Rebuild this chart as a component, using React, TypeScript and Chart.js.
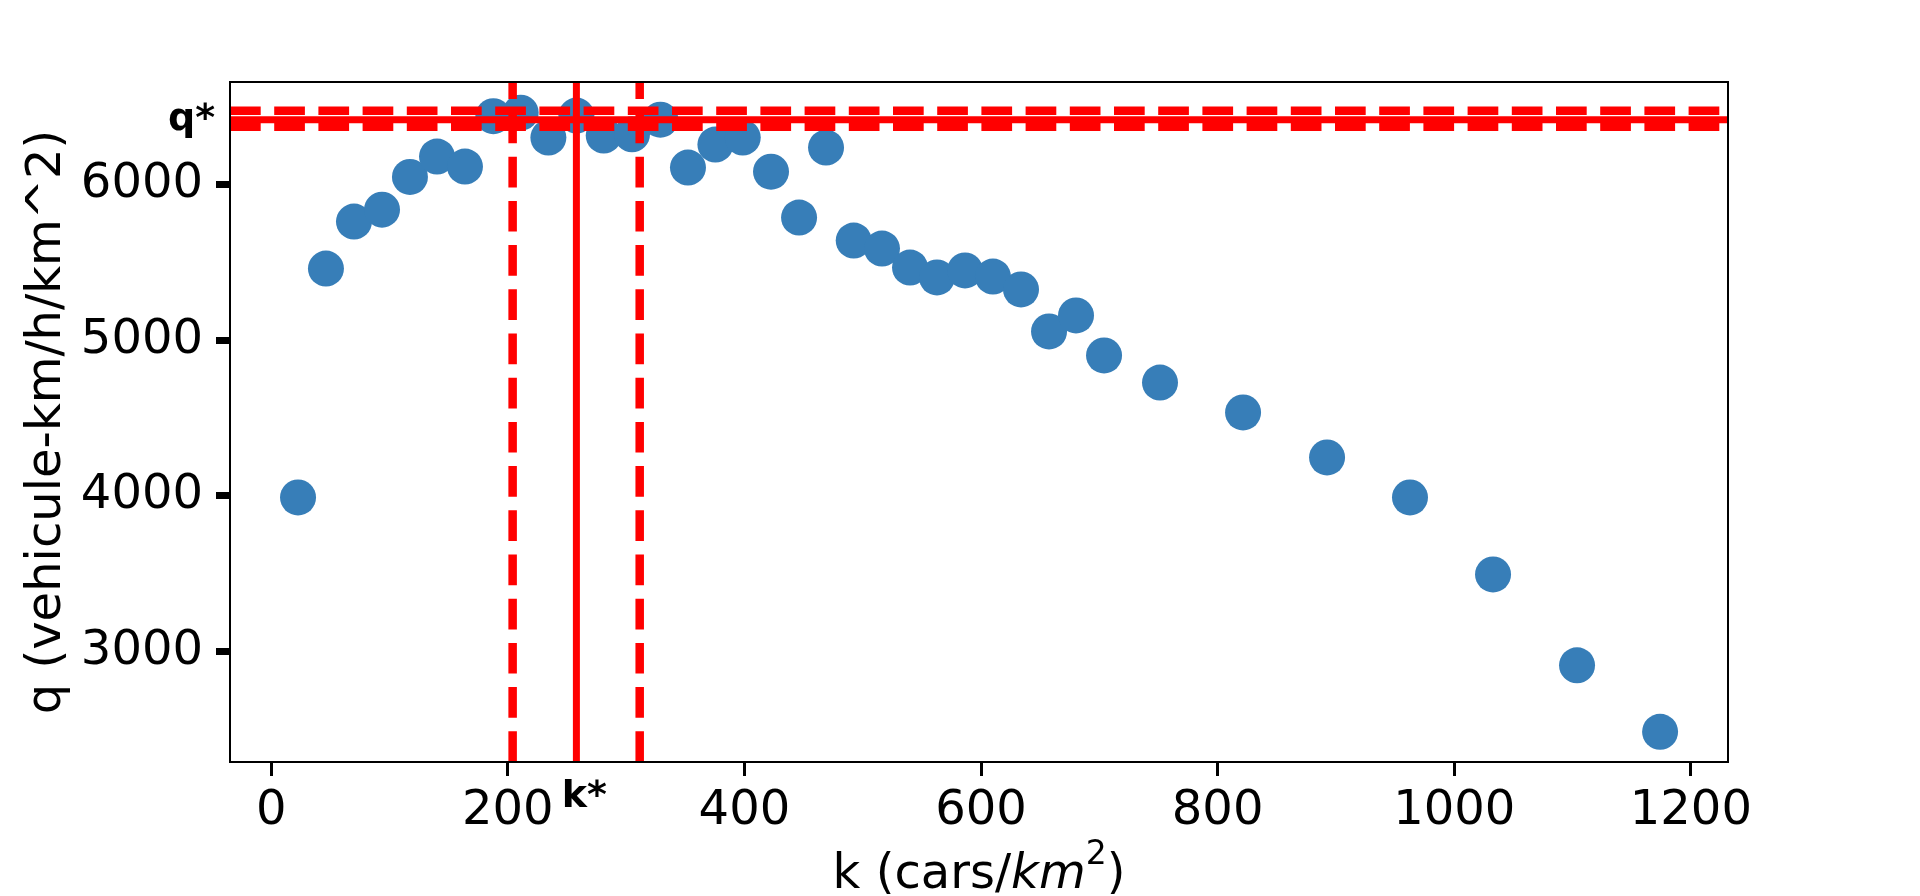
import { useEffect, useRef } from 'react';
import { Chart, ChartConfiguration, registerables } from 'chart.js';

Chart.register(...registerables);

// density k (cars/km^2) and flow q
const kValues = [
  22.7, 46.3, 70.0, 93.7, 117.3, 140.2, 163.8, 187.8, 210.9, 234.3, 258.0, 281.1, 305.0,
  329.0, 352.3, 375.5, 398.6, 422.5, 446.2, 469.0, 492.4, 516.3, 540.0, 562.8, 586.5,
  610.1, 633.8, 657.5, 680.3, 704.0, 751.3, 821.5, 892.5, 962.6, 1032.8, 1103.8, 1174.0,
];
const qValues = [
  3990, 5460, 5762, 5839, 6049, 6180, 6116, 6439, 6462, 6302, 6443, 6315, 6323,
  6417, 6109, 6257, 6302, 6083, 5788, 6238, 5640, 5589, 5467, 5403, 5448,
  5409, 5326, 5056, 5159, 4902, 4728, 4536, 4247, 3990, 3495, 2911, 2484,
];

const kStar = 258;
const kBand = [204.1, 311.5];
const qStar = 6417;
const qBand = [6372, 6474];

const xLimits = [-34.8, 1231.4];
const yLimits = [2290, 6659];
const xTicks = [0, 200, 400, 600, 800, 1000, 1200];
const yTicks = [3000, 4000, 5000, 6000];

const FONT = '"DejaVu Sans"';
const RED = '#ff0000';
const BLUE = '#377eb8';
const DASH = [30.7, 13.5];

const vLine = (k: number, dashed: boolean) => ({
  data: [{ x: k, y: yLimits[0] }, { x: k, y: yLimits[1] }],
  showLine: true,
  borderColor: RED,
  borderWidth: dashed ? 8.5 : 7,
  borderDash: dashed ? DASH : [],
  pointRadius: 0,
  order: 0,
});

const hLine = (q: number, dashed: boolean) => ({
  data: [{ x: xLimits[0], y: q }, { x: xLimits[1], y: q }],
  showLine: true,
  borderColor: RED,
  borderWidth: dashed ? 8.5 : 7,
  borderDash: dashed ? DASH : [],
  pointRadius: 0,
  order: 0,
});

const annotations = {
  id: 'annotations',
  afterDraw(chart: Chart) {
    const { ctx, chartArea: a } = chart;
    const x = chart.scales.x;
    const y = chart.scales.y;
    ctx.save();

    // frame
    ctx.strokeStyle = '#000';
    ctx.lineWidth = 2;
    ctx.strokeRect(a.left, a.top, a.right - a.left, a.bottom - a.top);

    // q* and k* markers
    ctx.fillStyle = '#000';
    ctx.font = `bold 38px ${FONT}`;
    ctx.textAlign = 'right';
    ctx.textBaseline = 'middle';
    ctx.fillText('q*', a.left - 15, y.getPixelForValue(qStar));
    ctx.textAlign = 'center';
    ctx.textBaseline = 'alphabetic';
    ctx.fillText('k*', x.getPixelForValue(kStar) + 8, a.bottom + 45);

    // x axis title with italic km and superscript 2
    const parts = [
      { text: 'k (cars/', font: `48px ${FONT}`, dy: 0 },
      { text: 'km', font: `italic 48px ${FONT}`, dy: 0 },
      { text: '2', font: `33px ${FONT}`, dy: -24 },
      { text: ')', font: `48px ${FONT}`, dy: 0 },
    ];
    let total = 0;
    const widths = parts.map(p => {
      ctx.font = p.font;
      const w = ctx.measureText(p.text).width;
      total += w;
      return w;
    });
    let cx = (a.left + a.right) / 2 - total / 2;
    const base = a.bottom + 126;
    ctx.textAlign = 'left';
    parts.forEach((p, i) => {
      ctx.font = p.font;
      ctx.fillText(p.text, cx, base + p.dy);
      cx += widths[i];
    });

    ctx.restore();
  },
};

export default function App() {
  const canvasRef = useRef<HTMLCanvasElement>(null);
  const chartInstance = useRef<Chart | null>(null);

  useEffect(() => {
    document.body.style.margin = '0';
    document.body.style.overflow = 'hidden';
    if (!canvasRef.current) return;
    const ctx = canvasRef.current.getContext('2d');
    if (!ctx) return;

    if (chartInstance.current) chartInstance.current.destroy();

    const config: ChartConfiguration<'scatter'> = {
      type: 'scatter',
      data: {
        datasets: [
          vLine(kBand[0], true),
          vLine(kStar, false),
          vLine(kBand[1], true),
          hLine(qStar, false),
          hLine(qBand[0], true),
          hLine(qBand[1], true),
          {
            data: kValues.map((k, i) => ({ x: k, y: qValues[i] })),
            backgroundColor: BLUE,
            borderWidth: 0,
            pointRadius: 18,
            pointHoverRadius: 18,
            order: 1,
          },
        ] as any,
      },
      plugins: [annotations],
      options: {
        responsive: false,
        devicePixelRatio: 1,
        animation: false,
        events: [],
        layout: { padding: { left: 0, top: 82, right: 192, bottom: 0 } },
        plugins: {
          legend: { display: false },
          tooltip: { enabled: false },
        },
        scales: {
          x: {
            type: 'linear',
            min: xLimits[0],
            max: xLimits[1],
            afterBuildTicks: axis => {
              axis.ticks = xTicks.map(v => ({ value: v }));
            },
            afterFit: axis => {
              axis.height = 134;
            },
            grid: {
              display: true,
              drawOnChartArea: false,
              drawTicks: true,
              tickLength: 14,
              tickWidth: 3,
              tickColor: '#000',
            },
            border: { display: true, color: '#000', width: 2 },
            ticks: {
              color: '#000',
              padding: 7,
              maxRotation: 0,
              autoSkip: false,
              callback: v => String(v),
              font: { family: 'DejaVu Sans', size: 48 },
            },
          },
          y: {
            type: 'linear',
            min: yLimits[0],
            max: yLimits[1],
            afterBuildTicks: axis => {
              axis.ticks = yTicks.map(v => ({ value: v }));
            },
            afterFit: axis => {
              axis.width = 230;
            },
            grid: {
              display: true,
              drawOnChartArea: false,
              drawTicks: true,
              tickLength: 14,
              tickWidth: 7,
              tickColor: '#000',
            },
            border: { display: true, color: '#000', width: 2 },
            ticks: {
              color: '#000',
              padding: 13,
              autoSkip: false,
              callback: v => String(v),
              font: { family: 'DejaVu Sans', size: 48 },
            },
            title: {
              display: true,
              text: 'q (vehicule-km/h/km^2)',
              color: '#000',
              padding: { top: 19, bottom: 0 },
              font: { family: 'DejaVu Sans', size: 48 },
            },
          },
        },
      },
    };

    chartInstance.current = new Chart(ctx, config);

    return () => {
      if (chartInstance.current) {
        chartInstance.current.destroy();
        chartInstance.current = null;
      }
    };
  }, []);

  return (
    <div style={{ width: 1920, height: 896, background: '#fff' }}>
      <canvas ref={canvasRef} width={1920} height={896} style={{ display: 'block' }} />
    </div>
  );
}
